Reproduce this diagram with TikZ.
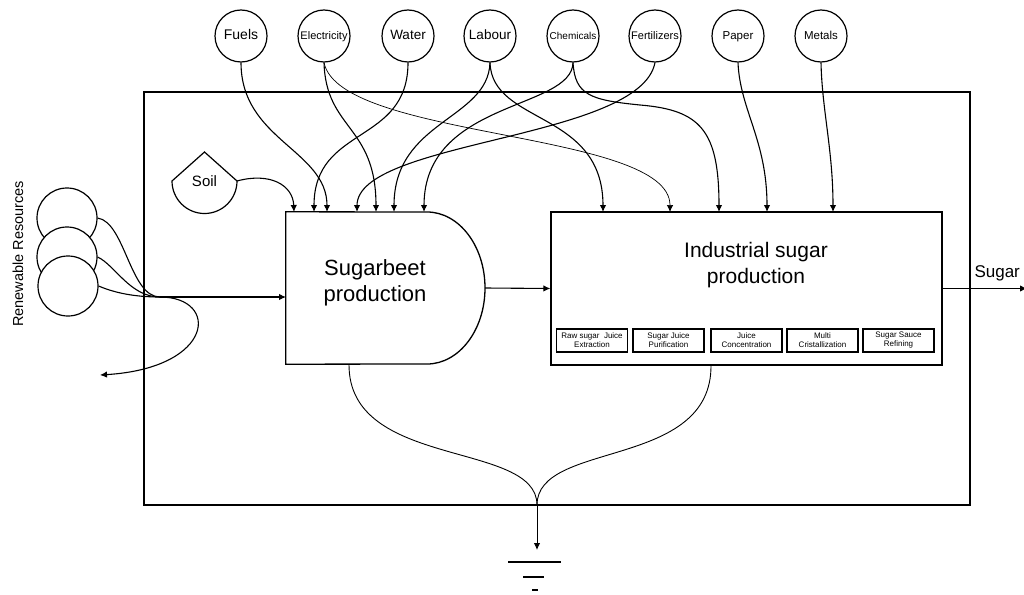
\documentclass[tikz,border=0pt]{standalone}
\usepackage{fontspec}
\setmainfont{Liberation Sans}
\usetikzlibrary{arrows.meta}
\usetikzlibrary{positioning}

\begin{document}
\begin{tikzpicture}
  [x=1pt,y=-1pt,
  res/.style={circle,draw=black,fill=white,line width=1.2pt,inner sep=0pt,minimum size=52pt,text height=11pt,text depth=3pt},
  renew/.style={circle,draw=black,fill=white,line width=1.2pt,inner sep=0pt,minimum size=60pt},
  stage/.style={draw=black,line width=1.3pt,inner sep=0pt,minimum width=71pt,minimum height=23pt,align=center,font=\fontsize{8}{9}\selectfont},
  flow/.style={black,line width=1.1pt,-{Latex[length=7pt,width=6.5pt]}},
  wire/.style={black,line width=0.9pt}]
  \useasboundingbox (0,0) rectangle (1024,594);

  \draw [black,line width=2.5pt] (144,92) rectangle (970,505);

  \node[res,font=\fontsize{14}{16}\selectfont] (t1) at (241,36) {Fuels};
  \node[res,font=\fontsize{11}{13}\selectfont] (t2) at (324,36) {Electricity};
  \node[res,font=\fontsize{13.5}{15}\selectfont] (t3) at (408,36) {Water};
  \node[res,font=\fontsize{13.5}{15}\selectfont] (t4) at (490,36) {Labour};
  \node[res,font=\fontsize{10}{12}\selectfont] (t5) at (573,36) {Chemicals};
  \node[res,font=\fontsize{11}{13}\selectfont] (t6) at (655,36) {Fertilizers};
  \node[res,font=\fontsize{11.5}{13}\selectfont] (t7) at (738,36) {Paper};
  \node[res,font=\fontsize{11.5}{13}\selectfont] (t8) at (821,36) {Metals};

  \node[renew] (r1) at (67,218) {};
  \node[renew] (r2) at (67,257) {};
  \node[renew] (r3) at (68,286) {};
  \node[rotate=90,font=\fontsize{14.5}{16}\selectfont] (rr) at (18,254) {Renewable Resources};

  \node[font=\fontsize{15}{17}\selectfont] (soil) at (204.5,181) {Soil};
  \draw [black,line width=1.2pt] (172,181) -- (204.5,152) -- (237,181) arc[start angle=0,end angle=180,radius=32.5] -- cycle;
  \coordinate (soile) at (237,181);

  \node[minimum width=199pt,minimum height=152pt,inner sep=0pt] (beet) at (385.5,288) {};
  \draw [black,line width=1.3pt] (beet.north west) -- (427,212) arc[start angle=-90,end angle=90,x radius=58,y radius=76] -- (beet.south west) -- cycle;
  \node[align=center,font=\fontsize{22}{26}\selectfont] (beettxt) at (375,283) {Sugarbeet\\production};

  \node[draw=black,line width=1.3pt,minimum width=391pt,minimum height=153pt,inner sep=0pt] (ind) at (746.5,288.5) {};
  \node[align=center,font=\fontsize{21}{26}\selectfont] (indtxt) at (756,265) {Industrial sugar\\production};
  \node[stage] (s1) at (592,340.5) {Raw sugar\ \ Juice\\Extraction};
  \node[stage] (s2) at (668.5,340.5) {Sugar Juice\\Purification};
  \node[stage] (s3) at (746.5,340.5) {Juice\\Concentration};
  \node[stage] (s4) at (822.5,340.5) {Multi\\Cristallization};
  \node[stage] (s5) at (898.5,340.5) {Sugar Sauce\\Refining};

  \coordinate (b1) at (294,212);
  \coordinate (b2) at (314,212);
  \coordinate (b3) at (327,212);
  \coordinate (b4) at (357,212);
  \coordinate (b5) at (376,212);
  \coordinate (b6) at (394,212);
  \coordinate (b7) at (424,212);
  \coordinate (i1) at (603,212);
  \coordinate (i2) at (670,212);
  \coordinate (i3) at (719,212);
  \coordinate (i4) at (767,212);
  \coordinate (i5) at (833,212);

  \draw [flow] (soile) .. controls (270,172) and (293,185) .. (b1);
  \draw [flow] (t3.south) .. controls (408,145) and (314,125) .. (b2);
  \draw [flow] (t1.south) .. controls (241,140) and (327,150) .. (b3);
  \draw [flow] (t6.south) .. controls (640,140) and (357,140) .. (b4);
  \draw [flow] (t2.south) .. controls (326,130) and (376,125) .. (b5);
  \draw [flow] (t4.south) .. controls (488,120) and (394,120) .. (b6);
  \draw [flow] (t5.south) .. controls (572,110) and (424,100) .. (b7);
  \draw [flow] (t4.south) .. controls (492,125) and (603,110) .. (i1);
  \draw [flow,line width=0.7pt] (t2.south) .. controls (340,140) and (670,130) .. (i2);
  \draw [flow] (t5.south) .. controls (575,95) and (590,100) .. (640,105) .. controls (700,110) and (719,130) .. (i3);
  \draw [flow] (t7.south) .. controls (740,110) and (767,140) .. (i4);
  \draw [flow] (t8.south) .. controls (822,110) and (833,150) .. (i5);

  \coordinate (j) at (160,297);
  \coordinate (bin) at (286,297);
  \coordinate (rout) at (100,375);
  \draw [wire,line width=1.1pt] (r1.east) .. controls (125,222) and (130,297) .. (j);
  \draw [wire,line width=1.1pt] (r2.east) .. controls (115,265) and (130,297) .. (j);
  \draw [wire,line width=1.1pt] (r3.east) .. controls (115,293) and (135,297) .. (j);
  \draw [flow] (j) -- (bin);
  \draw [flow] (j) .. controls (220,297) and (215,368) .. (rout);

  \draw [flow] (beet.east) -- (ind.west);

  \coordinate (sugout) at (1027,288.5);
  \draw [flow] (ind.east) -- (sugout);
  \node[anchor=base west,font=\fontsize{17}{19}\selectfont] (sugar) at (971,277) {Sugar};

  \coordinate (bbot) at (349,364);
  \coordinate (ibot) at (711,365);
  \coordinate (gnd) at (537,505);
  \coordinate (gtip) at (537,550);
  \draw [wire] (bbot) .. controls (348,470) and (537,440) .. (gnd);
  \draw [wire] (ibot) .. controls (712,470) and (537,440) .. (gnd);
  \draw [flow,line width=0.9pt] (gnd) -- (gtip);

  \draw [black,line width=1.6pt] (508,562) -- (561,562);
  \draw [black,line width=1.6pt] (523,577) -- (544,577);
  \draw [black,line width=1.6pt] (532,590) -- (538,590);
\end{tikzpicture}
\end{document}
